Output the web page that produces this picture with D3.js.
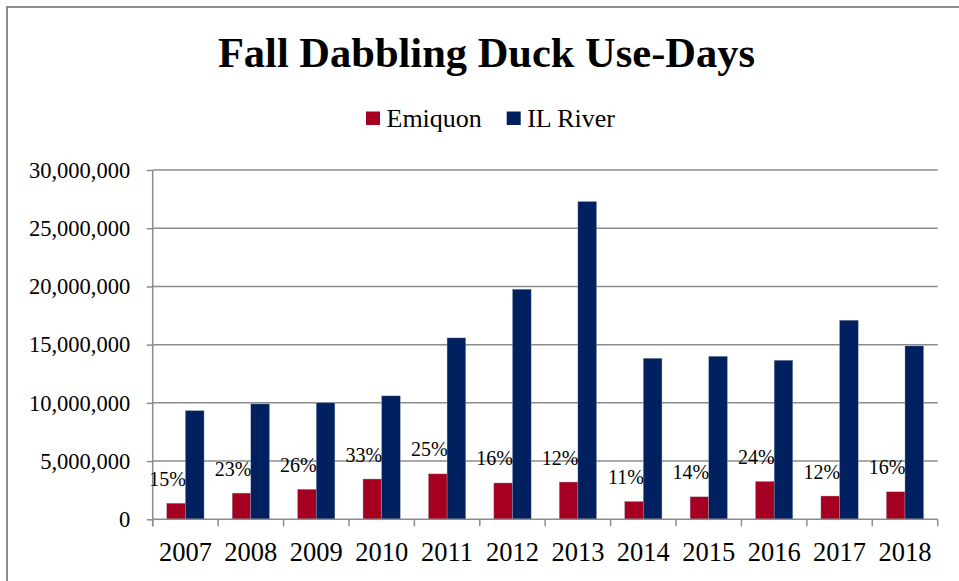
<!DOCTYPE html>
<html>
<head>
<meta charset="utf-8">
<script src="https://cdn.jsdelivr.net/npm/d3@7/dist/d3.min.js"></script>
<style>
  html, body { margin: 0; padding: 0; background: #fff; }
  svg { display: block; }
  text { font-family: "Liberation Serif", "Times New Roman", serif; fill: #000; }
</style>
</head>
<body>
<svg id="chart" width="959" height="581"></svg>
<script>
// Fall dabbling duck use-days, Emiquon vs. Illinois River
const years = ["2007", "2008", "2009", "2010", "2011", "2012", "2013", "2014", "2015", "2016", "2017", "2018"];
const emiquon = [1380000, 2250000, 2580000, 3460000, 3900000, 3120000, 3200000, 1530000, 1930000, 3250000, 2000000, 2360000];
const ilRiver = [9330000, 9910000, 10000000, 10600000, 15580000, 19760000, 27290000, 13830000, 14000000, 13660000, 17100000, 14890000];
const yTicks = [0, 5000000, 10000000, 15000000, 20000000, 25000000, 30000000];
const seriesNames = ["Emiquon", "IL River"];
const seriesColors = ["#A50021", "#002060"];

const svg = d3.select("#chart");
const gridColor = "#8c8c8c";
const serif = "Liberation Serif, Times New Roman, serif";

// outer chart frame
svg.append("rect")
  .attr("x", 7).attr("y", 7)
  .attr("width", 1000).attr("height", 1000)
  .attr("fill", "none").attr("stroke", gridColor).attr("stroke-width", 2);

const plot = { left: 152.7, right: 937.7, top: 170, bottom: 519.3 };

const x = d3.scaleBand().domain(years).range([plot.left, plot.right]).paddingInner(0).paddingOuter(0);
const inner = d3.scaleBand().domain(seriesNames).range([0, x.bandwidth()]).paddingInner(0).paddingOuter(0.755);
const y = d3.scaleLinear().domain([0, 30000000]).range([plot.bottom, plot.top]);

// title
svg.append("text")
  .attr("x", 486.5).attr("y", 67)
  .attr("text-anchor", "middle")
  .attr("font-size", 42.5).attr("font-weight", "bold")
  .text("Fall Dabbling Duck Use-Days");

// legend
const legend = svg.append("g");
const legendX = [366, 506.7];
seriesNames.forEach((name, i) => {
  legend.append("rect")
    .attr("x", legendX[i]).attr("y", 111.5)
    .attr("width", 14).attr("height", 13.5)
    .attr("fill", seriesColors[i]);
  legend.append("text")
    .attr("x", legendX[i] + 20.5).attr("y", 126.7)
    .attr("font-size", 26)
    .text(name);
});

// horizontal gridlines
svg.append("g")
  .selectAll("line")
  .data(yTicks.filter(t => t > 0))
  .join("line")
  .attr("x1", plot.left).attr("x2", plot.right)
  .attr("y1", d => y(d)).attr("y2", d => y(d))
  .attr("stroke", gridColor).attr("stroke-width", 1.5);

// y axis
const yAxis = svg.append("g")
  .attr("transform", `translate(${plot.left},0)`)
  .call(d3.axisLeft(y).tickValues(yTicks).tickSize(6).tickPadding(16.5).tickFormat(d3.format(",")));
yAxis.attr("font-family", serif);
yAxis.selectAll("text").attr("font-size", 22.5).attr("font-family", serif).attr("fill", "#000");
yAxis.selectAll("line").attr("stroke", gridColor).attr("stroke-width", 1.5);
yAxis.select(".domain").attr("d", `M0,${plot.top}V${plot.bottom + 7}`).attr("stroke", gridColor).attr("stroke-width", 1.5);

// bars
const bars = svg.append("g");
years.forEach((yr, i) => {
  const vals = [emiquon[i], ilRiver[i]];
  vals.forEach((v, j) => {
    bars.append("rect")
      .attr("x", x(yr) + inner(seriesNames[j]))
      .attr("y", y(v))
      .attr("width", inner.bandwidth())
      .attr("height", y(0) - y(v))
      .attr("fill", seriesColors[j])
      .attr("stroke", "#9aa3b5").attr("stroke-width", 0.4);
  });
});

// x axis with ticks at category boundaries
const xAxisG = svg.append("g");
xAxisG.append("line")
  .attr("x1", plot.left).attr("x2", plot.right)
  .attr("y1", plot.bottom).attr("y2", plot.bottom)
  .attr("stroke", gridColor).attr("stroke-width", 1.5);
xAxisG.selectAll("line.tick")
  .data(years.concat(["end"]))
  .join("line")
  .attr("class", "tick")
  .attr("x1", (d, i) => plot.left + i * x.step())
  .attr("x2", (d, i) => plot.left + i * x.step())
  .attr("y1", plot.bottom).attr("y2", plot.bottom + 7)
  .attr("stroke", gridColor).attr("stroke-width", 1.5);
xAxisG.selectAll("text")
  .data(years)
  .join("text")
  .attr("x", d => x(d) + x.bandwidth() / 2)
  .attr("y", 560.5)
  .attr("text-anchor", "middle")
  .attr("font-size", 26.5)
  .text(d => d);

// share labels: Emiquon as a percent of IL River
const pct = d3.format(".0%");
svg.append("g")
  .selectAll("text")
  .data(years)
  .join("text")
  .attr("x", (d, i) => x(d) + inner("Emiquon") + inner.bandwidth() + 0.5)
  .attr("y", (d, i) => y(emiquon[i]) - 17.5)
  .attr("text-anchor", "end")
  .attr("font-size", 20)
  .text((d, i) => pct(emiquon[i] / ilRiver[i]));
</script>
</body>
</html>
